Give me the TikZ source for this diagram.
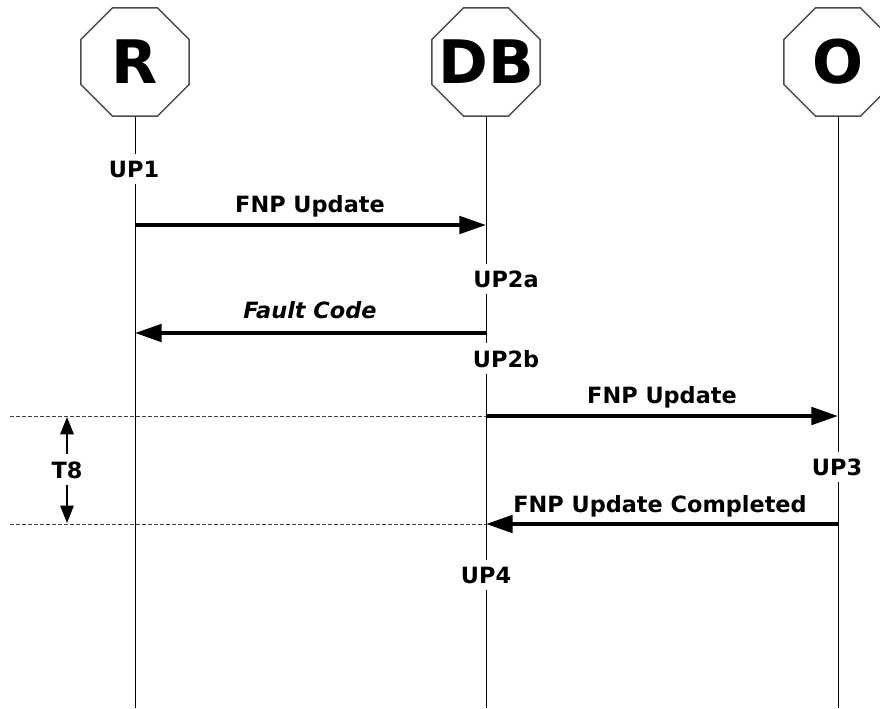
\documentclass[tikz,border=0pt]{standalone}
\usepackage{fontspec}
\setmainfont{DejaVu Sans}
\usetikzlibrary{shapes.geometric,arrows.meta}

\begin{document}
\begin{tikzpicture}[x=0.75pt,y=-0.75pt,
  actor/.style={regular polygon, regular polygon sides=8, minimum size=88pt,
    inner sep=0pt, draw=black!70, line width=1.1pt, fill=white},
  actorname/.style={font=\bfseries\fontsize{45}{45}\selectfont},
  life/.style={line width=0.75pt},
  msg/.style={line width=3pt, -{Triangle[length=20pt,width=13pt]}},
  msglabel/.style={anchor=base, inner sep=0pt, font=\bfseries\fontsize{16.8}{17}\selectfont},
  point/.style={anchor=base, fill=white, inner xsep=2pt, inner ysep=5pt,
    font=\bfseries\fontsize{16.8}{17}\selectfont},
  guide/.style={dash pattern=on 3pt off 1.5pt, line width=0.6pt, black!75},
  spanarrow/.style={line width=1.3pt, -{Triangle[length=13pt,width=10pt]}}
]
\useasboundingbox (0,0) rectangle (880,708);

% participants
\node[actor] (R)  at (135,62) {};
\node[actor] (DB) at (486,62) {};
\node[actor] (O)  at (838,62) {};
\node[actorname] (Rn)  at (R.center)  {R};
\node[actorname] (DBn) at (DB.center) {DB};
\node[actorname] (On)  at (O.center)  {O};

% lifelines
\coordinate (Rend)  at (135,708);
\coordinate (DBend) at (486,708);
\coordinate (Oend)  at (838,708);
\draw[life] (R.south)  -- (Rend);
\draw[life] (DB.south) -- (DBend);
\draw[life] (O.south)  -- (Oend);

% timer guides
\coordinate (g1a) at (10,416);
\coordinate (g1b) at (486,416);
\coordinate (g2a) at (10,524);
\coordinate (g2b) at (486,524);
\draw[guide] (g1a) -- (g1b);
\draw[guide] (g2a) -- (g2b);

% message end points
\coordinate (m1a) at (135,225);
\coordinate (m1b) at (486,225);
\coordinate (m2a) at (486,333);
\coordinate (m2b) at (135,333);
\coordinate (m3a) at (486,416);
\coordinate (m3b) at (838,416);
\coordinate (m4a) at (838,524);
\coordinate (m4b) at (486,524);

\draw[msg] (m1a) -- (m1b);
\draw[msg] (m2a) -- (m2b);
\draw[msg] (m3a) -- (m3b);
\draw[msg] (m4a) -- (m4b);

\node[msglabel] (l1) at (310,212) {FNP Update};
\node[msglabel, font=\bfseries\itshape\fontsize{16.8}{17}\selectfont] (l2) at (310,318) {Fault Code};
\node[msglabel] (l3) at (662,403) {FNP Update};
\node[msglabel] (l4) at (660,512) {FNP Update Completed};

% points on the lifelines
\node[point] (up1)  at (134,177) {UP1};
\node[point] (up2a) at (506,287) {UP2a};
\node[point] (up2b) at (506,367) {UP2b};
\node[point] (up3)  at (837,475) {UP3};
\node[point] (up4)  at (486,583) {UP4};

% timer T8
\node[msglabel] (T8) at (67,478) {T8};
\coordinate (t8top) at (67,417);
\coordinate (t8bot) at (67,523);
\draw[spanarrow] ([yshift=5pt]T8.north) -- (t8top);
\draw[spanarrow] ([yshift=-5pt]T8.south) -- (t8bot);
\end{tikzpicture}
\end{document}
